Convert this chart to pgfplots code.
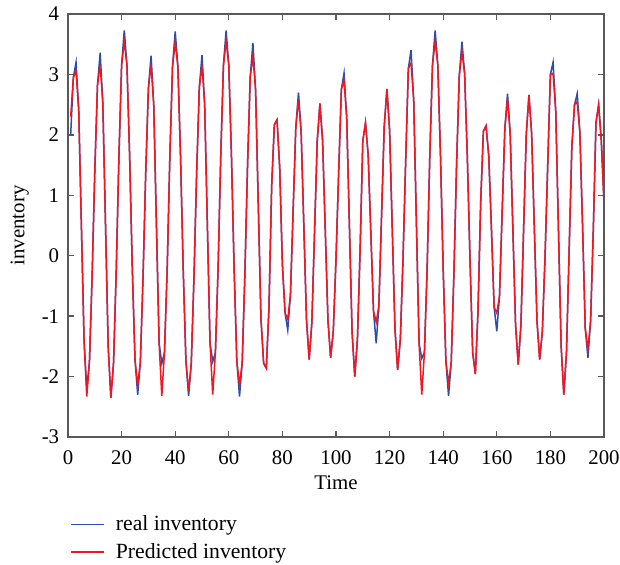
\documentclass[border=0pt]{standalone}
\usepackage{fontspec}
\setmainfont{Liberation Serif}
\usepackage{pgfplots}
\usepackage{pgfplotstable}
\pgfplotsset{compat=1.18}
\definecolor{realc}{HTML}{2D4DAA}
\definecolor{predc}{HTML}{F01622}

% time, real inventory, predicted inventory
\pgfplotstableread[row sep=\\]{
t real pred\\
1 2.00 2.30\\ 2 2.95 2.95\\ 3 3.20 3.05\\ 4 2.41 2.41\\ 5 0.50 0.50\\
6 -1.41 -1.41\\ 7 -2.20 -2.33\\ 8 -1.76 -1.76\\ 9 -0.34 -0.34\\ 10 1.40 1.40\\
11 2.82 2.82\\ 12 3.36 3.16\\ 13 2.52 2.52\\ 14 0.51 0.51\\ 15 -1.51 -1.51\\
16 -2.35 -2.35\\ 17 -1.77 -1.77\\ 18 -0.25 -0.25\\ 19 1.63 1.63\\ 20 3.15 3.15\\
21 3.73 3.55\\ 22 3.15 3.15\\ 23 1.65 1.65\\ 24 -0.22 -0.22\\ 25 -1.72 -1.72\\
26 -2.30 -2.15\\ 27 -1.76 -1.76\\ 28 -0.36 -0.36\\ 29 1.37 1.37\\ 30 2.77 2.77\\
31 3.31 3.16\\ 32 2.49 2.49\\ 33 0.50 0.50\\ 34 -1.45 -1.45\\ 35 -1.78 -2.32\\
36 -1.60 -1.60\\ 37 -0.24 -0.24\\ 38 1.63 1.63\\ 39 3.13 3.13\\ 40 3.71 3.53\\
41 3.13 3.13\\ 42 1.63 1.63\\ 43 -0.24 -0.24\\ 44 -1.74 -1.74\\ 45 -2.32 -2.25\\
46 -1.78 -1.78\\ 47 -0.37 -0.37\\ 48 1.37 1.37\\ 49 2.78 2.78\\ 50 3.32 3.16\\
51 2.50 2.50\\ 52 0.51 0.51\\ 53 -1.45 -1.45\\ 54 -1.75 -2.30\\ 55 -1.60 -1.60\\
56 -0.22 -0.22\\ 57 1.65 1.65\\ 58 3.15 3.15\\ 59 3.73 3.55\\ 60 3.15 3.15\\
61 1.64 1.64\\ 62 -0.24 -0.24\\ 63 -1.75 -1.75\\ 64 -2.33 -2.14\\ 65 -1.77 -1.77\\
66 -0.31 -0.31\\ 67 1.50 1.50\\ 68 2.96 2.96\\ 69 3.52 3.30\\ 70 2.74 2.74\\
71 0.85 0.85\\ 72 -1.04 -1.04\\ 73 -1.78 -1.78\\ 74 -1.86 -1.86\\ 75 -0.85 -0.85\\
76 1.16 1.16\\ 77 2.17 2.17\\ 78 2.25 2.25\\ 79 1.45 1.45\\ 80 -0.15 -0.15\\
81 -0.95 -0.95\\ 82 -1.23 -1.05\\ 83 -0.65 -0.65\\ 84 0.74 0.74\\ 85 2.12 2.12\\
86 2.70 2.59\\ 87 2.05 2.05\\ 88 0.49 0.49\\ 89 -1.07 -1.07\\ 90 -1.72 -1.72\\
91 -1.10 -1.10\\ 92 0.40 0.40\\ 93 1.90 1.90\\ 94 2.52 2.52\\ 95 1.90 1.90\\
96 0.42 0.42\\ 97 -1.07 -1.07\\ 98 -1.69 -1.69\\ 99 -1.24 -1.24\\ 100 -0.06 -0.06\\
101 1.39 1.39\\ 102 2.75 2.75\\ 103 3.02 2.90\\ 104 2.28 2.28\\ 105 0.51 0.51\\
106 -1.26 -1.26\\ 107 -2.00 -2.00\\ 108 -1.38 -1.38\\ 109 0.10 0.10\\ 110 1.90 1.90\\
111 2.20 2.20\\ 112 1.67 1.67\\ 113 0.38 0.38\\ 114 -0.92 -0.92\\ 115 -1.45 -1.10\\
116 -0.83 -0.83\\ 117 0.66 0.66\\ 118 2.14 2.14\\ 119 2.76 2.76\\ 120 2.08 2.08\\
121 0.44 0.44\\ 122 -1.21 -1.21\\ 123 -1.89 -1.89\\ 124 -1.39 -1.39\\ 125 -0.06 -0.06\\
126 1.57 1.57\\ 127 3.10 3.10\\ 128 3.40 3.19\\ 129 2.57 2.57\\ 130 0.55 0.55\\
131 -1.45 -1.45\\ 132 -1.70 -2.30\\ 133 -1.60 -1.60\\ 134 -0.22 -0.22\\ 135 1.65 1.65\\
136 3.15 3.15\\ 137 3.73 3.55\\ 138 3.15 3.15\\ 139 1.64 1.64\\ 140 -0.23 -0.23\\
141 -1.74 -1.74\\ 142 -2.32 -2.12\\ 143 -1.76 -1.76\\ 144 -0.30 -0.30\\ 145 1.52 1.52\\
146 2.98 2.98\\ 147 3.54 3.38\\ 148 3.01 3.01\\ 149 1.64 1.64\\ 150 -0.06 -0.06\\
151 -1.60 -1.60\\ 152 -1.96 -1.96\\ 153 -0.90 -0.90\\ 154 0.90 0.90\\ 155 2.06 2.06\\
156 2.15 2.15\\ 157 1.65 1.65\\ 158 0.45 0.45\\ 159 -0.85 -0.85\\ 160 -1.25 -0.95\\
161 -0.67 -0.67\\ 162 0.72 0.72\\ 163 2.10 2.10\\ 164 2.68 2.60\\ 165 2.02 2.02\\
166 0.44 0.44\\ 167 -1.14 -1.14\\ 168 -1.80 -1.80\\ 169 -1.15 -1.15\\ 170 0.43 0.43\\
171 2.01 2.01\\ 172 2.66 2.66\\ 173 2.02 2.02\\ 174 0.47 0.47\\ 175 -1.08 -1.08\\
176 -1.72 -1.72\\ 177 -1.25 -1.25\\ 178 -0.02 -0.02\\ 179 1.50 1.50\\ 180 3.00 3.00\\
181 3.20 3.02\\ 182 2.39 2.39\\ 183 0.45 0.45\\ 184 -1.49 -1.49\\ 185 -2.30 -2.30\\
186 -1.60 -1.60\\ 187 0.10 0.10\\ 188 1.80 1.80\\ 189 2.50 2.50\\ 190 2.68 2.55\\
191 2.04 2.04\\ 192 0.50 0.50\\ 193 -1.20 -1.20\\ 194 -1.69 -1.55\\ 195 -1.08 -1.08\\
196 0.41 0.41\\ 197 2.20 2.20\\ 198 2.50 2.50\\ 199 1.90 1.90\\ 200 0.88 0.88\\
}\invtable

\begin{document}
\begin{tikzpicture}[font=\fontsize{12.5}{15}\selectfont]
\path[use as bounding box] (-40.8pt,-76.8pt) rectangle (331.2pt,262.2pt);
\begin{axis}[scale only axis, width=321.6pt, height=253.8pt,
  xmin=0, xmax=200, ymin=-3, ymax=4,
  xtick distance=20, ytick distance=1,
  tick align=inside, major tick length=3.6pt,
  axis line style={black!65, line width=0.8pt},
  every tick/.style={black!65, line width=0.8pt},
  /pgf/number format/assume math mode=true,
  xticklabel style={yshift=-4.8pt}, yticklabel style={xshift=-1.8pt},
  xlabel={Time}, ylabel={inventory},
  xlabel style={at={(axis description cs:0.5,-0.125)}, anchor=base},
  ylabel style={at={(axis description cs:-0.09,0.5)}, anchor=center},
  legend style={at={(axis description cs:-0.006,-0.17)}, anchor=north west,
    draw=none, fill=none, row sep=1.8pt, font=\fontsize{13}{15.6}\selectfont,
    /tikz/every odd column/.append style={column sep=4.6pt}},
  legend cell align=left,
  legend image code/.code={\draw[#1] (0pt,0pt) -- (20pt,0pt);},
]
\addplot[realc, line width=0.9pt] table[x=t, y=real] {\invtable};
\addlegendentry{real inventory}
\addplot[predc, line width=0.9pt] table[x=t, y=pred] {\invtable};
\addlegendentry{Predicted inventory}
\end{axis}
\end{tikzpicture}
\end{document}
